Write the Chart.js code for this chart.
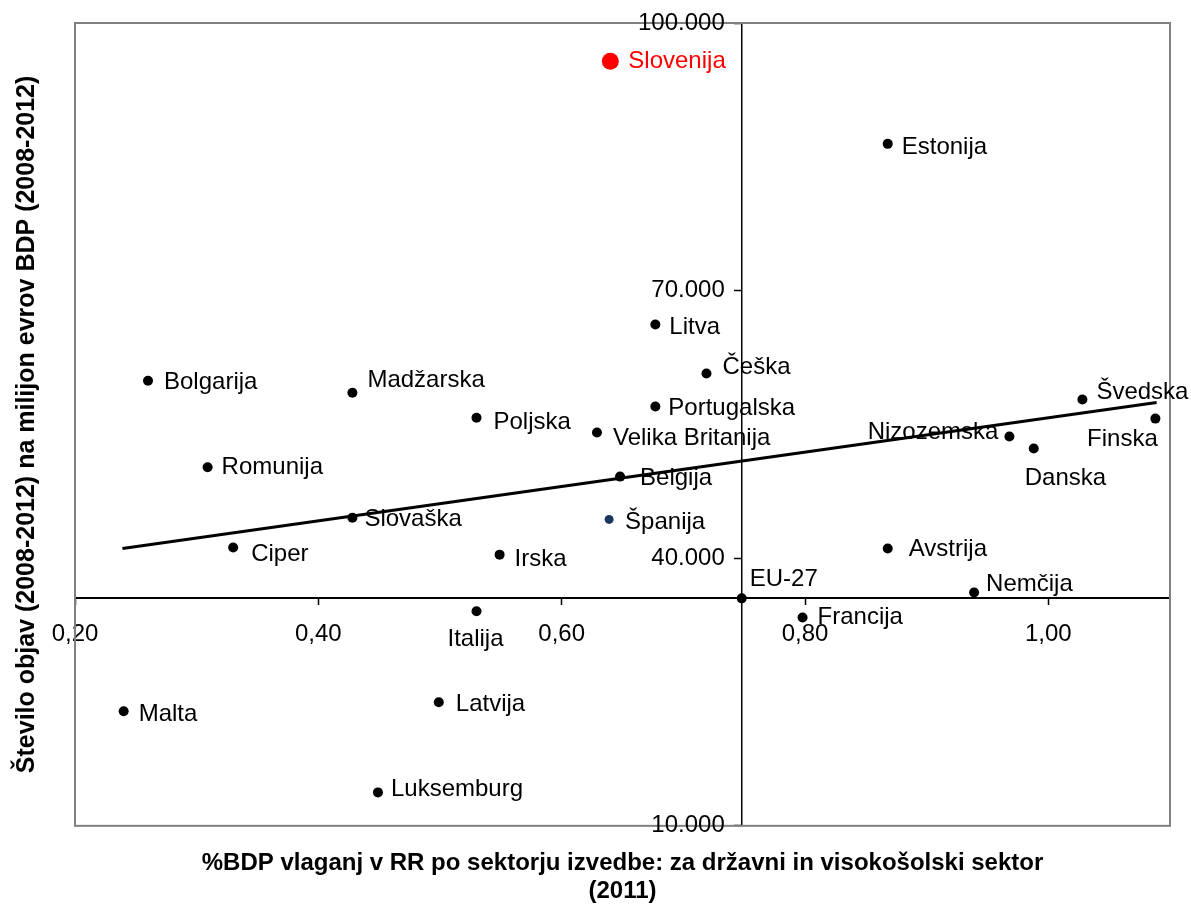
<!DOCTYPE html>
<html>
<head>
<meta charset="utf-8">
<script src="https://cdn.jsdelivr.net/npm/chart.js@4/dist/chart.umd.min.js"></script>
<style>
  html, body { margin: 0; padding: 0; background: #fff; }
  #wrap { width: 1191px; height: 906px; }
</style>
</head>
<body>
<div id="wrap"><canvas id="chart"></canvas></div>
<script>
// Data
const countries = ['Slovenija', 'Estonija', 'Litva', 'Češka', 'Švedska', 'Finska', 'Nizozemska', 'Danska',
  'Bolgarija', 'Madžarska', 'Poljska', 'Portugalska', 'Velika Britanija', 'Romunija', 'Belgija', 'Slovaška',
  'Španija', 'Ciper', 'Irska', 'Avstrija', 'EU-27', 'Nemčija', 'Italija', 'Francija', 'Latvija', 'Malta', 'Luksemburg'];
const rdShare = [0.640, 0.868, 0.677, 0.719, 1.028, 1.088, 0.968, 0.988,
  0.260, 0.428, 0.530, 0.677, 0.629, 0.309, 0.648, 0.428,
  0.639, 0.330, 0.549, 0.868, 0.748, 0.939, 0.530, 0.798, 0.499, 0.240, 0.449];
const publications = [95700, 86450, 66200, 60700, 57800, 55650, 53650, 52300,
  59900, 58550, 55750, 57000, 54100, 50200, 49150, 44550,
  44350, 41200, 40400, 41100, 35500, 36150, 34050, 33350, 23850, 22850, 13750];
const trendX = [0.239, 1.089];
const trendY = [41100, 57450];
const xTicks = [0.2, 0.4, 0.6, 0.8, 1.0];
const yTicks = [10000, 40000, 70000, 100000];

const FONT = "'Liberation Sans', Arial, sans-serif";
const euIdx = countries.indexOf('EU-27');

// label offsets from the dot: [dx, dy, align]
const labelPos = {
  'Slovenija': [18, 0], 'Estonija': [14, 4], 'Litva': [14, 3], 'Češka': [16, -6],
  'Švedska': [14, -7], 'Finska': [-33, 21, 'center'], 'Nizozemska': [-11, -4, 'right'],
  'Danska': [-9, 30], 'Bolgarija': [16, 2], 'Madžarska': [15, -12], 'Poljska': [17, 5],
  'Portugalska': [13, 2], 'Velika Britanija': [16, 6], 'Romunija': [14, 0], 'Belgija': [20, 2],
  'Slovaška': [12, 2], 'Španija': [16, 3], 'Ciper': [18, 7], 'Irska': [15, 5], 'Avstrija': [21, 1],
  'EU-27': [8, -19], 'Nemčija': [12, -8], 'Italija': [-1, 28, 'center'], 'Francija': [15, 0],
  'Latvija': [17, 2], 'Malta': [15, 3], 'Luksemburg': [13, -3]
};

const dotColor = name => name === 'Slovenija' ? '#ff0000' : (name === 'Španija' ? '#17375e' : '#000000');
const dotRadius = name => name === 'Slovenija' ? 8.5 : (name === 'Španija' ? 4.5 : 5);
const thousands = v => String(v).replace(/\B(?=(\d{3})+(?!\d))/g, '.');

const frame = {
  id: 'frame',
  beforeDatasetsDraw(chart) {
    const {ctx, chartArea: a} = chart;
    ctx.save();
    ctx.strokeStyle = '#808080';
    ctx.lineWidth = 2;
    ctx.strokeRect(a.left, a.top, a.right - a.left, a.bottom - a.top);
    ctx.restore();
  }
};

// y tick labels sit left of the crossing axis (Chart.js puts them flush on it)
const yTickLabels = {
  id: 'yTickLabels',
  afterDraw(chart) {
    const {ctx, scales: {x, y}} = chart;
    const ax = x.getPixelForValue(rdShare[euIdx]);
    ctx.save();
    ctx.font = '24px ' + FONT;
    ctx.fillStyle = '#000';
    ctx.textAlign = 'right';
    ctx.textBaseline = 'middle';
    y.ticks.forEach(t => ctx.fillText(thousands(t.value), ax - 17, y.getPixelForValue(t.value)));
    ctx.restore();
  }
};

const pointLabels = {
  id: 'pointLabels',
  beforeDatasetsDraw(chart) {
    const {ctx} = chart;
    const meta = chart.getDatasetMeta(1);
    ctx.save();
    ctx.font = '24px ' + FONT;
    ctx.textBaseline = 'middle';
    meta.data.forEach((pt, i) => {
      const name = countries[i];
      const p = labelPos[name] || [14, 2];
      ctx.textAlign = p[2] || 'left';
      ctx.fillStyle = name === 'Slovenija' ? '#ff0000' : '#000000';
      ctx.fillText(name, pt.x + p[0], pt.y + p[1]);
    });
    ctx.restore();
  }
};

new Chart(document.getElementById('chart'), {
  type: 'scatter',
  data: {
    datasets: [
      {
        type: 'line',
        data: trendX.map((x, i) => ({x, y: trendY[i]})),
        borderColor: '#000',
        borderWidth: 3,
        pointRadius: 0,
        fill: false
      },
      {
        data: rdShare.map((x, i) => ({x, y: publications[i]})),
        pointBackgroundColor: countries.map(dotColor),
        pointBorderWidth: 0,
        pointRadius: countries.map(dotRadius),
        pointHoverRadius: countries.map(dotRadius)
      }
    ]
  },
  options: {
    responsive: true,
    maintainAspectRatio: false,
    animation: false,
    layout: { padding: { left: 8, right: 21, top: 23, bottom: 0 } },
    scales: {
      x: {
        type: 'linear',
        min: 0.2,
        max: 1.1,
        position: { y: publications[euIdx] },
        afterBuildTicks: s => { s.ticks = xTicks.map(v => ({value: v})); },
        grid: { drawOnChartArea: false, tickLength: 6, color: '#000', tickWidth: 1.5 },
        border: { color: '#000', width: 2 },
        ticks: {
          padding: 16,
          color: '#000',
          font: { family: FONT, size: 24 },
          maxRotation: 0,
          callback: v => v.toFixed(2).replace('.', ',')
        }
      },
      y: {
        type: 'linear',
        min: 10000,
        max: 100000,
        position: { x: rdShare[euIdx] },
        afterBuildTicks: s => { s.ticks = yTicks.map(v => ({value: v})); },
        grid: { drawOnChartArea: false, tickLength: 7, color: '#000', tickWidth: 1.5 },
        border: { color: '#000', width: 1.5 },
        ticks: { display: false }
      }
    },
    plugins: {
      legend: { display: false },
      tooltip: { enabled: false },
      title: {
        display: true,
        position: 'left',
        fullSize: false,
        text: 'Število objav (2008-2012) na milijon evrov BDP (2008-2012)',
        color: '#000',
        font: { family: FONT, size: 25, weight: 'bold', lineHeight: 1.2 },
        padding: { top: 4, bottom: 33 }
      },
      subtitle: {
        display: true,
        position: 'bottom',
        fullSize: false,
        text: ['%BDP vlaganj v RR po sektorju izvedbe: za državni in visokošolski sektor', '(2011)'],
        color: '#000',
        font: { family: FONT, size: 24, weight: 'bold', lineHeight: 1.17 },
        padding: { top: 23, bottom: 1 }
      }
    }
  },
  plugins: [frame, pointLabels, yTickLabels]
});
</script>
</body>
</html>
